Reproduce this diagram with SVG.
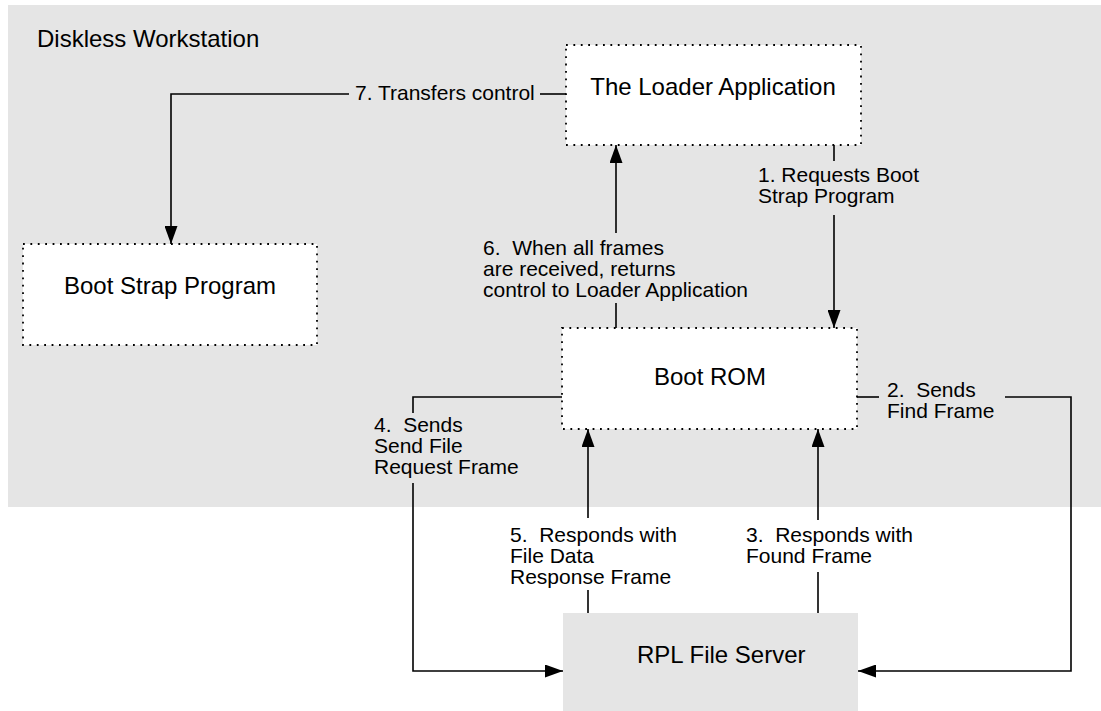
<svg xmlns="http://www.w3.org/2000/svg" width="1101" height="711" viewBox="0 0 1101 711">
  <defs>
    <marker id="arrow" viewBox="0 0 18 13" refX="18" refY="6.5" markerWidth="18" markerHeight="13" markerUnits="userSpaceOnUse" orient="auto">
      <path d="M0,0 L18,6.5 L0,13 z" fill="#000"/>
    </marker>
    <style>
      .title { font-family: "Liberation Sans", Arial, sans-serif; font-size: 24px; fill: #000; }
      .lbl { font-family: "Liberation Sans", Arial, sans-serif; font-size: 21px; fill: #000; }
      .mid { text-anchor: middle; }
      .box { fill: #fff; stroke: #000; stroke-width: 1.8; stroke-dasharray: 1.8 5.6; }
      .line { fill: none; stroke: #000; stroke-width: 1.6; }
    </style>
  </defs>

  <rect id="workstation-area" x="8" y="5" width="1093" height="502" fill="#e5e5e5"/>
  <text class="title" x="37" y="47">Diskless Workstation</text>

  <g id="connectors">
    <!-- 7. Transfers control -->
    <polyline class="line" points="349,94 171,94 171,244" marker-end="url(#arrow)"/>
    <line class="line" x1="540" y1="94" x2="566" y2="94"/>
    <!-- 1. Requests Boot Strap Program -->
    <line class="line" x1="834" y1="145" x2="834" y2="161"/>
    <line class="line" x1="834" y1="215" x2="834" y2="328" marker-end="url(#arrow)"/>
    <!-- 6. When all frames ... -->
    <line class="line" x1="616" y1="328" x2="616" y2="303"/>
    <line class="line" x1="616" y1="233" x2="616" y2="145" marker-end="url(#arrow)"/>
    <!-- 2. Sends Find Frame -->
    <line class="line" x1="857" y1="397" x2="879" y2="397"/>
    <polyline class="line" points="1005,397 1071,397 1071,671 858,671" marker-end="url(#arrow)"/>
    <!-- 4. Sends Send File Request Frame -->
    <polyline class="line" points="562,397 413,397 413,413"/>
    <polyline class="line" points="413,483 413,671 563,671" marker-end="url(#arrow)"/>
    <!-- 5. Responds with File Data Response Frame -->
    <line class="line" x1="588" y1="613" x2="588" y2="590"/>
    <line class="line" x1="588" y1="518" x2="588" y2="429" marker-end="url(#arrow)"/>
    <!-- 3. Responds with Found Frame -->
    <line class="line" x1="818" y1="613" x2="818" y2="572"/>
    <line class="line" x1="818" y1="520" x2="818" y2="429" marker-end="url(#arrow)"/>

    <g id="labels">
      <text class="lbl" x="355" y="100">7. Transfers control</text>
      <text class="lbl" x="758" y="182">1. Requests Boot</text>
      <text class="lbl" x="758" y="203">Strap Program</text>
      <text class="lbl" x="483" y="255">6.&#160; When all frames</text>
      <text class="lbl" x="483" y="276">are received, returns</text>
      <text class="lbl" x="483" y="297">control to Loader Application</text>
      <text class="lbl" x="887" y="397">2.&#160; Sends</text>
      <text class="lbl" x="887" y="418">Find Frame</text>
      <text class="lbl" x="374" y="432">4.&#160; Sends</text>
      <text class="lbl" x="374" y="453">Send File</text>
      <text class="lbl" x="374" y="474">Request Frame</text>
      <text class="lbl" x="510" y="542">5.&#160; Responds with</text>
      <text class="lbl" x="510" y="563">File Data</text>
      <text class="lbl" x="510" y="584">Response Frame</text>
      <text class="lbl" x="746" y="542">3.&#160; Responds with</text>
      <text class="lbl" x="746" y="563">Found Frame</text>
    </g>
  </g>

  <g id="loader-application">
    <rect class="box" x="566" y="45" width="295" height="100"/>
    <text class="title mid" x="713" y="95">The Loader Application</text>
  </g>

  <g id="boot-strap-program">
    <rect class="box" x="23" y="244" width="294" height="101"/>
    <text class="title mid" x="170" y="294">Boot Strap Program</text>
  </g>

  <g id="boot-rom">
    <rect class="box" x="562" y="328" width="295" height="101"/>
    <text class="title mid" x="710" y="385">Boot ROM</text>
  </g>

  <g id="rpl-file-server">
    <rect x="563" y="613" width="295" height="98" fill="#e5e5e5"/>
    <text class="title" x="637" y="663">RPL File Server</text>
  </g>
</svg>
